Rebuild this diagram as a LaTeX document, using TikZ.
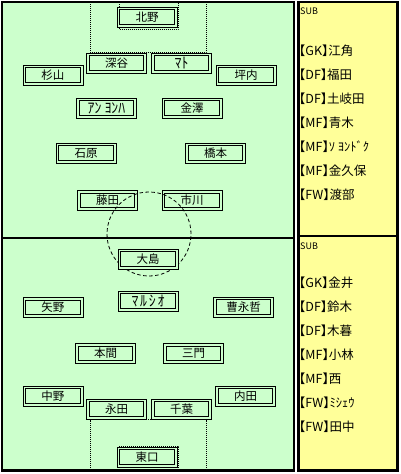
\documentclass[tikz,border=0pt]{standalone}
\usepackage{fontspec}
\usepackage{graphicx}
\setmainfont{Noto Sans CJK JP}
\newfontfamily\subfont[RawFeature=+halt]{Noto Sans CJK JP}
\newcommand\hwk[1]{\scalebox{1.2}[1.3]{#1}}
\definecolor{fieldgreen}{HTML}{CCFFCC}
\definecolor{panelyellow}{HTML}{FFFF99}
\begin{document}
\begin{tikzpicture}[x=1pt,y=-1pt,
  player/.style={draw=black, line width=1pt, fill=fieldgreen,
    minimum width=60pt, minimum height=20pt, inner sep=0pt,
    font=\fontsize{11.5}{12}\selectfont,
    path picture={\draw[line width=1pt]
      ([shift={(2.6pt,-2.6pt)}]path picture bounding box.north west) rectangle
      ([shift={(-2.6pt,2.6pt)}]path picture bounding box.south east);}},
  subitem/.style={anchor=west, inner sep=0pt, font=\subfont\fontsize{12.5}{12.5}\selectfont},
  subhead/.style={anchor=west, inner sep=0pt, font=\fontsize{9}{9}\selectfont},
  borderline/.style={line width=2.6pt},
  boxline/.style={line width=0.8pt, dash pattern=on 1pt off 1pt},
  circleline/.style={line width=0.8pt, dash pattern=on 3.5pt off 2.5pt}
]
\useasboundingbox (0,0) rectangle (400,474);
\fill[white] (0,0) rectangle (400,474);
% backgrounds
\fill[fieldgreen] (2,2) rectangle (294,470.5);
\fill[panelyellow] (298.5,2) rectangle (397.5,470.5);
% penalty and goal areas
\draw[boxline] (90,2) -- (90,52.5) -- (206,52.5) -- (206,2);
\draw[boxline] (119,2) -- (119,29.5) -- (178,29.5) -- (178,2);
\draw[boxline] (90,470) -- (90,419.5) -- (206,419.5) -- (206,470);
\draw[boxline] (119,470) -- (119,446) -- (178,446) -- (178,470);
% top team
\node[player] (kitano) at (147,17) {北野};
\node[player] (fukaya) at (116.5,63) {深谷};
\node[player] (mato) at (181.5,63) {\hwk{ﾏﾄ}};
\node[player] (sugiyama) at (53,75) {杉山};
\node[player] (tsubouchi) at (246,75) {坪内};
\node[player] (anyongha) at (106.5,108) {\hwk{ｱﾝ ﾖﾝﾊ}};
\node[player] (kanazawa) at (192,108) {金澤};
\node[player] (ishihara) at (86,153) {石原};
\node[player] (hashimoto) at (215.5,153) {橋本};
\node[player] (fujita) at (107.5,200.5) {藤田};
\node[player] (ichikawa) at (192,200.5) {市川};
% center circle
\coordinate (kickoff) at (149,234);
\draw[circleline] (kickoff) circle[radius=42pt];
% bottom team
\node[player] (oshima) at (148,259) {大島};
\node[player] (marcio) at (148,301) {\hwk{ﾏ\kern1.5ptﾙ\kern1.5ptｼ\kern1.5ptｵ}};
\node[player] (yano) at (53,307.5) {矢野};
\node[player] (sonagachul) at (243.5,307) {曹永哲};
\node[player] (honma) at (105.5,353.5) {本間};
\node[player] (mikado) at (193.5,353.5) {三門};
\node[player] (nakano) at (53,396) {中野};
\node[player] (uchida) at (245.5,396) {内田};
\node[player] (nagata) at (116.5,409) {永田};
\node[player] (chiba) at (181.5,409) {千葉};
\node[player] (higashiguchi) at (147,457) {東口};
% borders
\draw[borderline] (2,2) rectangle (294,470.5);
\draw[borderline] (2,238) -- (294,238);
\draw[borderline] (298.5,2) rectangle (397.5,470.5);
\draw[borderline] (298.5,236) -- (397.5,236);
% substitutes top
\node[subhead] (subA) at (300,11) {SUB};
\node[subitem] (sa1) at (299,51) {【GK】江角};
\node[subitem] (sa2) at (299,75) {【DF】福田};
\node[subitem] (sa3) at (299,99) {【DF】土岐田};
\node[subitem] (sa4) at (299,123) {【MF】青木};
\node[subitem] (sa5) at (299,147) {【MF】ｿ ﾖﾝﾄﾞｸ};
\node[subitem] (sa6) at (299,171) {【MF】金久保};
\node[subitem] (sa7) at (299,195) {【FW】渡部};
% substitutes bottom
\node[subhead] (subB) at (300,246) {SUB};
\node[subitem] (sb1) at (299,283) {【GK】金井};
\node[subitem] (sb2) at (299,307) {【DF】鈴木};
\node[subitem] (sb3) at (299,331) {【DF】木暮};
\node[subitem] (sb4) at (299,355) {【MF】小林};
\node[subitem] (sb5) at (299,379) {【MF】西};
\node[subitem] (sb6) at (299,403) {【FW】ﾐｼｪｳ};
\node[subitem] (sb7) at (299,427) {【FW】田中};
\end{tikzpicture}
\end{document}
